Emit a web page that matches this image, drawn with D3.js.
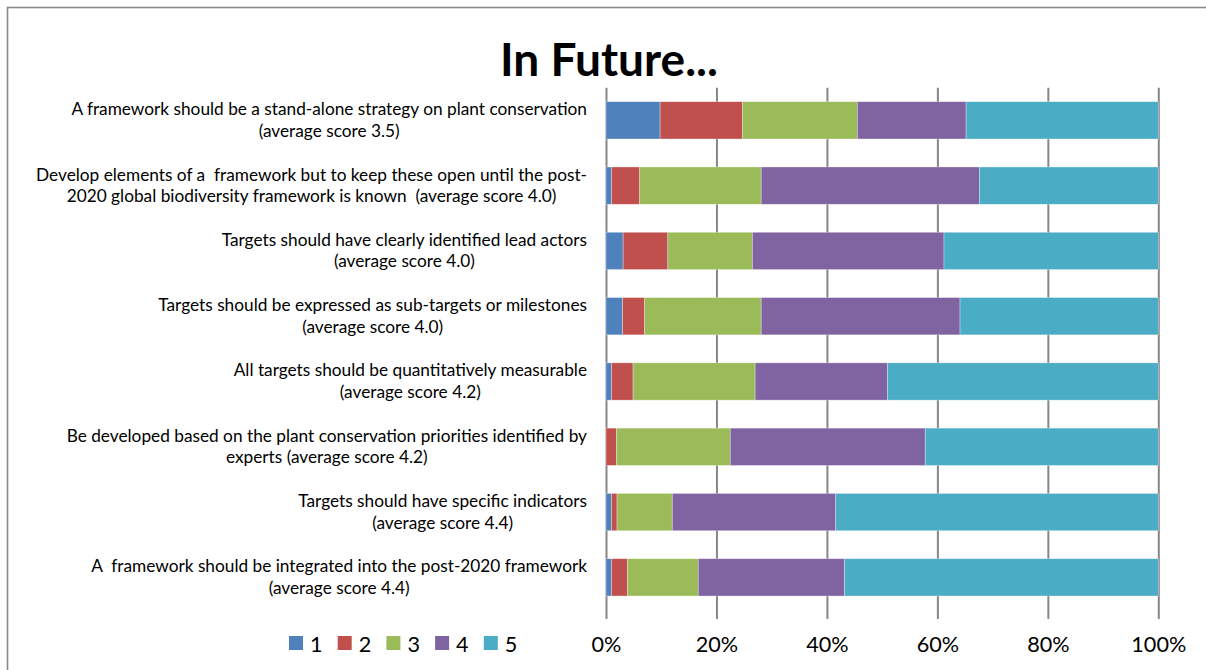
<!DOCTYPE html>
<html>
<head>
<meta charset="utf-8">
<script src="https://cdn.jsdelivr.net/npm/d3@7"></script>
<style>
  html, body { margin: 0; padding: 0; background: #fff; }
  svg { display: block; }
</style>
</head>
<body>
<svg id="chart" width="1206" height="670"></svg>
<script>
// Survey statements (two lines each, as wrapped on the chart)
const categories = [
  "A framework should be a stand-alone strategy on plant conservation\n(average score 3.5)",
  "Develop elements of a  framework but to keep these open until the post-\n2020 global biodiversity framework is known  (average score 4.0)",
  "Targets should have clearly identified lead actors\n(average score 4.0)",
  "Targets should be expressed as sub-targets or milestones\n(average score 4.0)",
  "All targets should be quantitatively measurable\n(average score 4.2)",
  "Be developed based on the plant conservation priorities identified by\nexperts (average score 4.2)",
  "Targets should have specific indicators\n(average score 4.4)",
  "A  framework should be integrated into the post-2020 framework\n(average score 4.4)"
];

// Share of responses (%) for each score
const scoreKeys = ["1", "2", "3", "4", "5"];
const score1 = [9.8, 1.0, 3.1, 3.0, 1.0, 0.0, 1.0, 1.0];
const score2 = [14.9, 5.1, 8.1, 4.0, 3.9, 1.9, 1.0, 2.9];
const score3 = [20.8, 22.0, 15.3, 21.1, 22.1, 20.6, 10.0, 12.8];
const score4 = [19.7, 39.5, 34.7, 36.0, 24.0, 35.3, 29.6, 26.5];
const score5 = [34.8, 32.4, 38.8, 35.9, 49.0, 42.2, 58.4, 56.8];

const tickValues = [0, 20, 40, 60, 80, 100];
const titleText = "In Future...";
const colors = ["#4F81BD", "#C0504D", "#9BBB59", "#8064A2", "#4BACC6"];

const FONT = "Lato, 'Open Sans', 'DejaVu Sans', sans-serif";
const svg = d3.select("#chart");

// Find a font size that makes a string span a given width
function fitSize(str, weight, target) {
  const t = svg.append("text")
    .attr("font-family", FONT)
    .attr("font-weight", weight)
    .attr("font-size", 100)
    .style("white-space", "pre")
    .text(str);
  const w = t.node().getComputedTextLength();
  t.remove();
  return 100 * target / w;
}

const labelSize = fitSize("A framework should be a stand-alone strategy on plant conservation", 400, 516);
const tickSize = fitSize("100%", 400, 55);
const titleSize = fitSize(titleText, 700, 218);

// Outer frame
svg.append("rect")
  .attr("x", 7.5).attr("y", 7.5)
  .attr("width", 1210).attr("height", 700)
  .attr("fill", "#fff")
  .attr("stroke", "#8a8a8a")
  .attr("stroke-width", 1.6);

// Title
svg.append("text")
  .attr("x", 609).attr("y", 76)
  .attr("text-anchor", "middle")
  .attr("font-family", FONT)
  .attr("font-weight", 700)
  .attr("font-size", titleSize)
  .attr("fill", "#000")
  .text(titleText);

// Scales
const x = d3.scaleLinear().domain([0, 100]).range([606, 1158.3]);
const y = d3.scaleBand()
  .domain(d3.range(categories.length))
  .range([87.7, 610])
  .paddingInner(0.75 / 1.75)
  .paddingOuter(0.375 / 1.75);

const plotTop = 87.7;
const axisY = 619;

// Vertical gridlines and percentage axis
const xAxis = d3.axisBottom(x)
  .tickValues(tickValues)
  .tickFormat(d => d + "%")
  .tickSizeInner(-(axisY - plotTop))
  .tickSizeOuter(0);

const gx = svg.append("g")
  .attr("transform", `translate(0,${axisY})`)
  .call(xAxis);
gx.select(".domain").remove();
gx.selectAll(".tick line")
  .attr("stroke", "#878787")
  .attr("stroke-width", 2);
gx.selectAll(".tick text")
  .attr("y", 652 - axisY)
  .attr("dy", 0)
  .attr("fill", "#000")
  .attr("font-family", FONT)
  .attr("font-size", tickSize);

// Stacked bars
const table = categories.map((c, i) => ({
  "1": score1[i], "2": score2[i], "3": score3[i], "4": score4[i], "5": score5[i]
}));
const stacked = d3.stack().keys(scoreKeys)(table);

svg.append("g")
  .selectAll("g")
  .data(stacked)
  .join("g")
  .attr("fill", (d, i) => colors[i])
  .selectAll("rect")
  .data(d => d.map((v, i) => ({ v, i })))
  .join("rect")
  .attr("x", d => x(d.v[0]))
  .attr("y", d => y(d.i))
  .attr("width", d => Math.max(0, x(d.v[1]) - x(d.v[0])))
  .attr("height", y.bandwidth())
  .attr("stroke", "rgba(255,255,255,0.45)")
  .attr("stroke-width", 0.7);

// Category labels: each block right-aligned, lines centred within it
const labelG = svg.append("g")
  .attr("font-family", FONT)
  .attr("font-size", labelSize)
  .attr("fill", "#000");

categories.forEach((c, i) => {
  const lines = c.split("\n");
  const texts = lines.map(l => labelG.append("text")
    .attr("text-anchor", "middle")
    .style("white-space", "pre")
    .text(l));
  const maxW = d3.max(texts, t => t.node().getComputedTextLength());
  const cx = 587 - maxW / 2;
  const cy = y(i) + y.bandwidth() / 2;
  texts.forEach((t, k) => {
    t.attr("x", cx).attr("y", cy - 5 + k * 21.5);
  });
});

// Legend
const legend = svg.append("g")
  .selectAll("g")
  .data(scoreKeys)
  .join("g")
  .attr("transform", (d, i) => `translate(${289 + i * 48.7},0)`);
legend.append("rect")
  .attr("x", 0).attr("y", 636)
  .attr("width", 14).attr("height", 14)
  .attr("fill", (d, i) => colors[i]);
legend.append("text")
  .attr("x", 21).attr("y", 652)
  .attr("font-family", FONT)
  .attr("font-size", tickSize)
  .attr("fill", "#000")
  .text(d => d);
</script>
</body>
</html>
